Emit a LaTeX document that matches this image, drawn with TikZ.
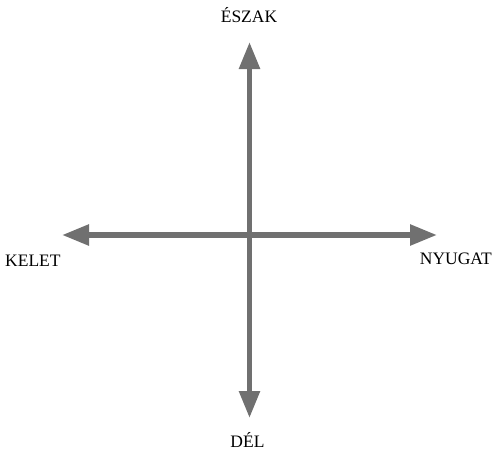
\documentclass[tikz,border=0pt]{standalone}
\usepackage{fontspec}
\setmainfont{Liberation Serif}
\usetikzlibrary{arrows.meta}
\definecolor{arrowgray}{HTML}{707070}
\begin{document}
\begin{tikzpicture}[x=1pt,y=1pt,
  dirarrow/.style={draw=arrowgray, line width=5.5pt, -{Triangle[length=27pt,width=20pt]}, fill=arrowgray},
  lbl/.style={inner sep=0pt, font=\fontsize{17.5}{20}\selectfont, text=black}]
\useasboundingbox (0,0) rectangle (495,451);
\coordinate (c) at (249.5,216);
\coordinate (n) at (249.5,409);
\coordinate (s) at (249.5,33);
\coordinate (w) at (62,216);
\coordinate (e) at (437,216);
\draw[dirarrow] (c) -- (n);
\draw[dirarrow] (c) -- (s);
\draw[dirarrow] (c) -- (w);
\draw[dirarrow] (c) -- (e);
\node[lbl, anchor=base] (nl) at (249,428) {ÉSZAK};
\node[lbl, anchor=base] (sl) at (247.5,4) {DÉL};
\node[lbl, anchor=base west] (wl) at (5,185) {KELET};
\node[lbl, anchor=base east] (el) at (492,187) {NYUGAT};
\end{tikzpicture}
\end{document}
